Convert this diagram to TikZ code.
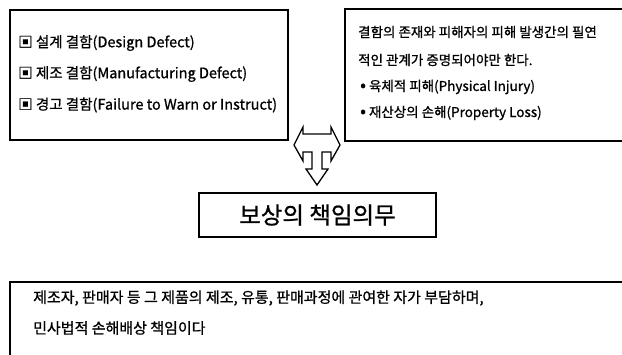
\documentclass[tikz,border=0pt]{standalone}
\usepackage{fontspec}
\setmainfont[FakeBold=0.9]{Noto Sans CJK KR}
\newcommand{\bigdot}{{\fontsize{17}{17}\selectfont •}}
\begin{document}
\begin{tikzpicture}[x=1pt,y=-1pt,
  boxline/.style={draw=black,line width=1.3pt},
  txt/.style={anchor=west,inner sep=0pt},
  lefttxt/.style={txt,font=\fontsize{14.5}{17}\selectfont},
  righttxt/.style={txt,font=\fontsize{13.5}{16}\selectfont},
  bottxt/.style={txt,font=\fontsize{15}{18}\selectfont},
  bigtxt/.style={inner sep=0pt,font=\fontsize{23.5}{27}\selectfont},
  arrowshape/.style={draw=black,line width=1.3pt,fill=white,line join=miter}]
\clip (0,0) rectangle (622,354);
\fill[white] (0,0) rectangle (622,354);
% left box
\node[boxline,minimum width=278pt,minimum height=130pt,inner sep=0pt] (leftbox) at (149,75) {};
\node[lefttxt] (l1) at (18,43) {▣ 설계 결함(Design Defect)};
\node[lefttxt] (l2) at (18,74) {▣ 제조 결함(Manufacturing Defect)};
\node[lefttxt] (l3) at (18,105) {▣ 경고 결함(Failure to Warn or Instruct)};
% right box (open to the right)
\coordinate (rtl) at (345,9);
\coordinate (rbl) at (345,141);
\draw[boxline] (rtl -| 640,0) -- (rtl) -- (rbl) -- (rbl -| 640,0);
\node[righttxt] (r1) at (358,32) {결함의 존재와 피해자의 피해 발생간의 필연};
\node[righttxt] (r2) at (358,60) {적인 관계가 증명되어야만 한다.};
\node[righttxt] (r3) at (360,87) {\bigdot\ 육체적 피해(Physical Injury)};
\node[righttxt] (r4) at (360,113) {\bigdot\ 재산상의 손해(Property Loss)};
% T-shaped arrow
\draw[arrowshape] (294,145) -- (303,127) -- (303,134) -- (331,134) -- (331,127)
  -- (340,145) -- (331,161) -- (331,152) -- (322,152) -- (322,169) -- (328,169)
  -- (317,185) -- (306,169) -- (312,169) -- (312,152) -- (303,152) -- (303,161) -- cycle;
% middle box
\node[boxline,minimum width=237pt,minimum height=44pt,inner sep=0pt] (midbox) at (317.5,215) {};
\node[bigtxt] (midtxt) at (midbox.center) {보상의 책임의무};
% bottom box (open to right and bottom)
\coordinate (btl) at (10,282);
\draw[boxline] (btl -| 640,0) -- (btl) -- (btl |- 0,370);
\node[bottxt] (b1) at (33,298) {제조자, 판매자 등 그 제품의 제조, 유통, 판매과정에 관여한 자가 부담하며,};
\node[bottxt] (b2) at (33,328) {민사법적 손해배상 책임이다};
\end{tikzpicture}
\end{document}
